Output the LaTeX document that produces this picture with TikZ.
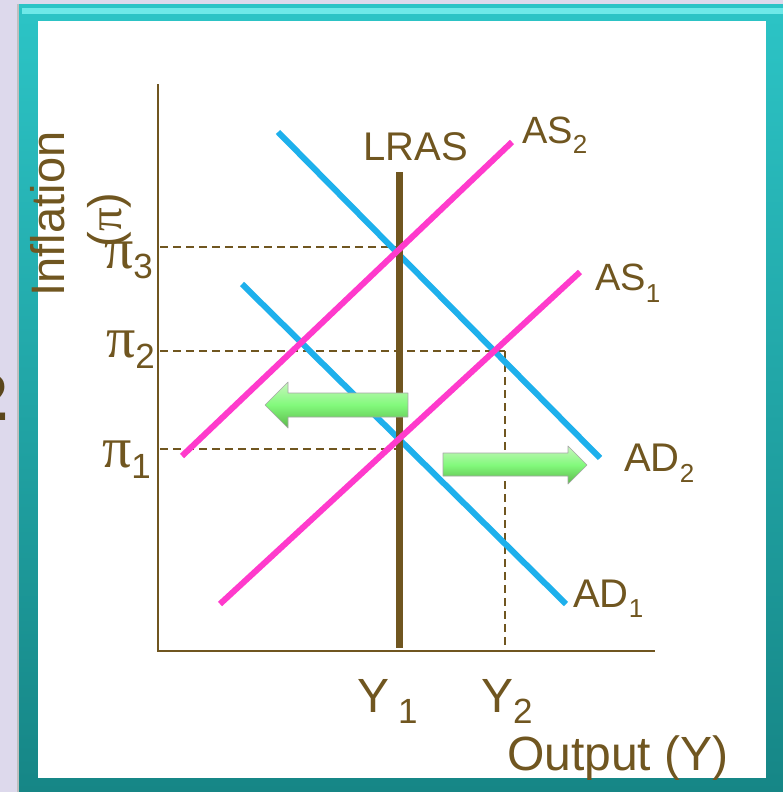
\documentclass[tikz,border=0pt]{standalone}
\usepackage{fontspec}
\setmainfont{Liberation Sans}
\newfontfamily\serifpi{Liberation Serif}
\definecolor{brn}{RGB}{112,86,32}
\definecolor{dkbrn}{RGB}{90,70,28}
\definecolor{pnk}{RGB}{255,58,204}
\definecolor{cyn}{RGB}{30,176,236}
\definecolor{lav}{RGB}{221,217,236}
\definecolor{tealtop}{RGB}{44,196,198}
\definecolor{tealbot}{RGB}{22,134,134}
\definecolor{tealhi}{RGB}{110,232,232}
\definecolor{grnhi}{RGB}{200,246,190}
\definecolor{grnlo}{RGB}{92,184,74}
\newcommand\fs[1]{\fontsize{#1}{#1}\selectfont}
\newcommand\dn[3]{\raisebox{-#1pt}{\fs{#2}#3}}
\tikzset{
  lbl/.style={inner sep=0pt, text=brn},
  axisline/.style={draw=brn, line width=2.5pt},
  guide/.style={draw=brn, line width=1.6pt, dash pattern=on 8pt off 5pt},
  asline/.style={draw=pnk, line width=6pt},
  adline/.style={draw=cyn, line width=6pt},
  lrasline/.style={draw=brn, line width=7pt},
  fatarrow/.style={top color=grnhi, bottom color=grnlo, middle color=green!35!grnhi, draw=gray!70, line width=0.6pt, line join=round}
}
\begin{document}
\begin{tikzpicture}[x=1pt,y=-1pt]
\useasboundingbox (0,0) rectangle (783,792);
% background and frame
\fill[lav] (0,0) rectangle (783,792);
\node[lbl, text=dkbrn, font=\bfseries\fs{66}, anchor=base east] (frag) at (8,420) {2};
\fill[black!25] (17,4) rectangle (783,792);
\shade[top color=tealtop, bottom color=tealbot] (19,5) rectangle (783,792);
\fill[tealhi] (22,8) rectangle (783,14);
\fill[white] (38,21) rectangle (766,778);
% coordinates
\coordinate (ytop) at (158,84);
\coordinate (orig) at (158,651);
\coordinate (xend) at (655,651);
\coordinate (lrasT) at (399,172);
\coordinate (lrasB) at (399,648);
\coordinate (as2a) at (182,456);
\coordinate (as2b) at (512,142);
\coordinate (as1a) at (220,604);
\coordinate (as1b) at (580,272);
\coordinate (ad2a) at (278,132);
\coordinate (ad2b) at (600,458);
\coordinate (ad1a) at (242,284);
\coordinate (ad1b) at (566,604);
\coordinate (p3a) at (160,247);
\coordinate (p3b) at (399,247);
\coordinate (p2a) at (160,351);
\coordinate (p2b) at (505,351);
\coordinate (p1a) at (160,449);
\coordinate (p1b) at (399,449);
\coordinate (y2b) at (505,648);
% axes
\draw[axisline] (ytop) -- (orig) -- (xend);
% guides
\draw[guide] (p3a) -- (p3b);
\draw[guide] (p2a) -- (p2b);
\draw[guide] (p1a) -- (p1b);
\draw[guide] (p2b) -- (y2b);
% curves
\draw[adline] (ad2a) -- (ad2b);
\draw[adline] (ad1a) -- (ad1b);
\draw[lrasline] (lrasT) -- (lrasB);
\draw[asline] (as2a) -- (as2b);
\draw[asline] (as1a) -- (as1b);
% arrows
\path[fatarrow] (265,405) -- (288,382) -- (288,393) -- (408,393) -- (408,417) -- (288,417) -- (288,428) -- cycle;
\path[fatarrow] (443,453) -- (568,453) -- (568,446) -- (587,465) -- (568,484) -- (568,476) -- (443,476) -- cycle;
% labels
\node[lbl, font=\fs{40}, anchor=base west] (lras) at (363,160) {LRAS};
\node[lbl, font=\fs{38}, anchor=base west] (as2) at (522,143) {AS\dn{10}{26}{2}};
\node[lbl, font=\fs{38}, anchor=base west] (as1) at (595,290) {AS\dn{12}{26}{1}};
\node[lbl, font=\fs{40}, anchor=base west] (ad2) at (624,471) {AD\dn{11}{26}{2}};
\node[lbl, font=\fs{40}, anchor=base west] (ad1) at (573,607) {AD\dn{10}{26}{1}};
\node[lbl, font=\fs{48}, anchor=base west] (y1) at (357,712) {Y\hspace{9pt}\dn{11}{35}{1}};
\node[lbl, font=\fs{48}, anchor=base west] (y2) at (481,712) {Y\dn{11}{35}{2}};
\node[lbl, font=\fs{48}, anchor=base west] (out) at (507,770) {Output (Y)};
\node[lbl, font=\fs{47}, anchor=base, rotate=90] (infl) at (64,214) {Inflation};
\node[lbl, font=\fs{47}, anchor=base, rotate=90] (pisym) at (121,220) {({\serifpi π})};
\node[lbl, anchor=base east] (pi3) at (153,268) {{\serifpi\fs{58}π}\dn{10}{35}{3}};
\node[lbl, anchor=base east] (pi2) at (155,357) {{\serifpi\fs{58}π}\dn{11}{35}{2}};
\node[lbl, anchor=base east] (pi1) at (151,467) {{\serifpi\fs{58}π}\dn{11}{35}{1}};
\end{tikzpicture}
\end{document}
